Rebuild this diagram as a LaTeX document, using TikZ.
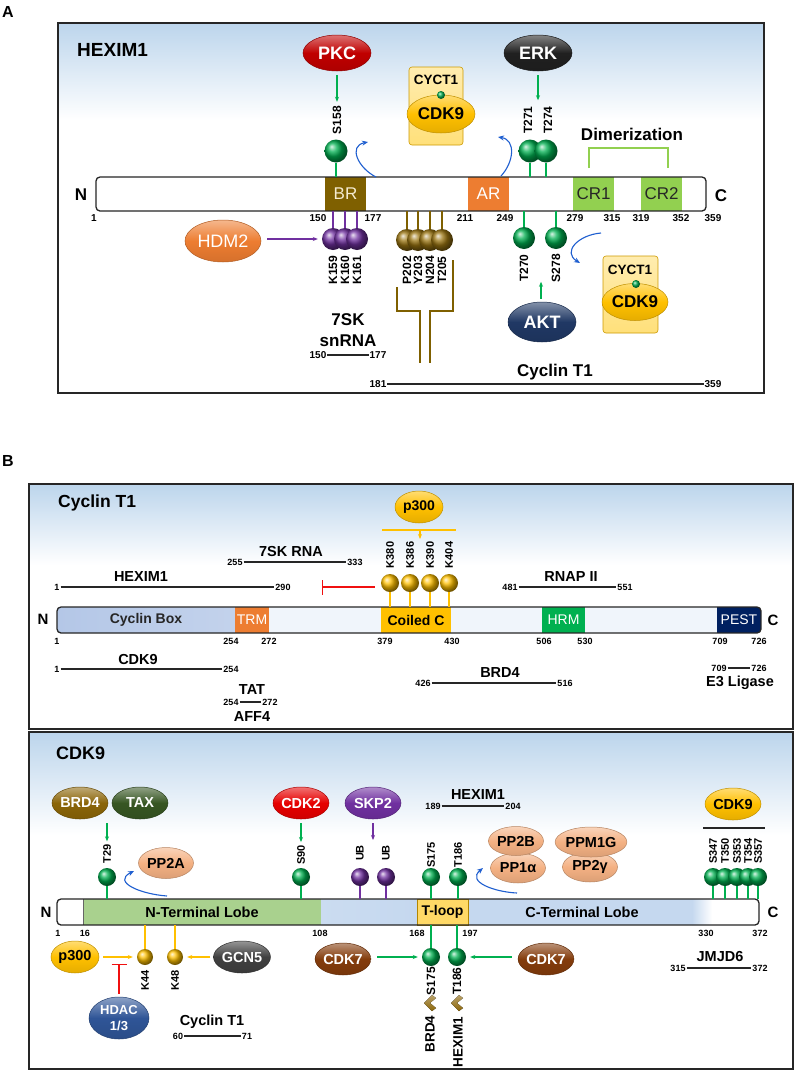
\documentclass[tikz,border=0pt]{standalone}
\usepackage{fontspec}
\setmainfont{Liberation Sans}
\usetikzlibrary{shapes.geometric,arrows.meta,calc}
\newcommand\myfs[1]{\fontsize{#1}{#1}\selectfont}
\definecolor{bgblue}{HTML}{BCD5EC}
\definecolor{lgreen}{HTML}{00B050}
\definecolor{pkcred}{HTML}{C00000}
\definecolor{erkblk}{HTML}{202020}
\definecolor{hdmor}{HTML}{ED7D31}
\definecolor{aktnavy}{HTML}{203864}
\definecolor{purp}{HTML}{7030A0}
\definecolor{brbrown}{HTML}{7F6000}
\definecolor{brball}{HTML}{9A7410}
\definecolor{gold}{HTML}{FFC000}
\definecolor{cplxy}{HTML}{FFE07A}
\definecolor{crgreen}{HTML}{92D050}
\definecolor{salmon}{HTML}{F4B183}
\definecolor{cdktwo}{HTML}{E60000}
\definecolor{taxg}{HTML}{375623}
\definecolor{brdol}{HTML}{8B6508}
\definecolor{gcn}{HTML}{404040}
\definecolor{cdkseven}{HTML}{843C0C}
\definecolor{hdacb}{HTML}{2F5597}
\definecolor{tloop}{HTML}{FFD966}
\definecolor{nlobe}{HTML}{A9D18E}
\definecolor{clobe}{HTML}{C5D8EF}
\definecolor{cbox}{HTML}{B4C7E7}
\definecolor{hrm}{HTML}{00B050}
\definecolor{pest}{HTML}{002060}
\definecolor{barbg}{HTML}{F0F5FB}
\definecolor{bluearr}{HTML}{1F5FD0}
\definecolor{cream}{HTML}{F5EBD0}
\definecolor{redinh}{HTML}{F01010}
\tikzset{
 panel/.style={line width=1.4pt, draw=black!85},
 kin/.style={ellipse, inner sep=0pt, draw=#1!75!black, line width=0.5pt, top color=#1!55!white, bottom color=#1!90!black, middle color=#1, text=white, font=\bfseries\myfs{15}},
 dom/.style={rectangle, inner sep=0pt, minimum height=34pt, font=\myfs{17}},
 num/.style={inner sep=0.5pt, font=\bfseries\myfs{10}},
 snum/.style={inner sep=1pt, font=\bfseries\myfs{9}},
 rlab/.style={rotate=90, inner sep=0pt, font=\bfseries\myfs{12}},
 txt/.style={inner sep=0pt, font=\bfseries\myfs{15}},
 lol/.style={circle, inner sep=0pt, minimum size=#1},
 gstem/.style={draw=lgreen, line width=1.2pt},
 garrow/.style={draw=lgreen, line width=1.2pt, -{Stealth[length=5pt,width=4pt]}},
 parrow/.style={draw=purp, line width=1.2pt, -{Stealth[length=5pt,width=4pt]}},
 oarrow/.style={draw=gold, line width=1.2pt, -{Stealth[length=5pt,width=4pt]}},
 barline/.style={line width=1.3pt, draw=black!85},
 bline/.style={line width=1.3pt, draw=black!85},
 barr/.style={draw=bluearr, line width=1.1pt, -{Stealth[length=6pt,width=5pt]}},
 inh/.style={draw=redinh, line width=1.2pt, -{Bar[width=15pt]}},
 cplx/.style={rectangle, rounded corners=3pt, draw=gold!80!black, line width=0.6pt, top color=cplxy!60!white, bottom color=cplxy, inner sep=0pt},
}
\begin{document}
\begin{tikzpicture}[x=1pt,y=-1pt]
\useasboundingbox (0,0) rectangle (798,1074);
\fill[white] (0,0) rectangle (798,1074);
%%%%%%%%%%%%%%%% PANEL A
\node[txt, font=\bfseries\myfs{16}] (labA) at (8,12) {A};
\fill[white] (58,23) rectangle (764,393);
\shade[top color=bgblue, bottom color=white] (58,23) rectangle (764,120);
\draw[panel] (58,23) rectangle (764,393);
\node[txt, font=\bfseries\myfs{19}, anchor=west] (titA) at (77,50) {HEXIM1};
% bar
\fill[white, rounded corners=4pt] (96,177) rectangle (706,211);
\node[dom, fill=brbrown, minimum width=41pt, text=cream] (BR) at (345.5,194) {BR};
\node[dom, fill=hdmor, minimum width=41pt, text=white] (AR) at (488.5,194) {AR};
\node[dom, fill=crgreen, minimum width=41pt, text=black!85] (CR1) at (593.5,194) {CR1};
\node[dom, fill=crgreen, minimum width=41pt, text=black!85] (CR2) at (661.5,194) {CR2};
\draw[barline, rounded corners=4pt] (96,177) rectangle (706,211);
\node[txt, font=\bfseries\myfs{17}] (NA) at (81,195) {N};
\node[txt, font=\bfseries\myfs{17}] (CA) at (721,196) {C};
\foreach \x/\t in {94/1,318/150,373/177,465/211,505/249,575/279,612/315,641/319,681/352,713/359}
  \node[num] (nA\t) at (\x,218) {\t};
% PKC
\node[kin=pkcred, minimum width=68pt, minimum height=36pt, font=\bfseries\myfs{18}] (PKC) at (337,53) {PKC};
\node[rlab] (lS158) at (337,120) {S158};
\draw[garrow] ([yshift=-4pt]PKC.south) -- ([yshift=4pt]lS158.east);
\node[lol=23pt, ball color=lgreen] (pS158) at (336,151) {};
\draw[gstem] (pS158) -- (336,177);
\draw[barr] (376,177) .. controls (358,168) and (348,146) .. (368,142);
% complex 1
\node[cplx, minimum width=54pt, minimum height=78pt] (cx1) at (436,106) {};
\node[txt, font=\bfseries\myfs{13.5}] (cy1) at (436,80) {CYCT1};
\node[kin=gold, text=black, minimum width=68pt, minimum height=38pt, font=\bfseries\myfs{17}] (cdk1) at (441,114) {CDK9};
\node[lol=8pt, ball color=lgreen] (dot1) at (441,95) {};
\draw[barr] (501,176) .. controls (514,162) and (516,140) .. (498,137);
% ERK
\node[kin=erkblk, minimum width=68pt, minimum height=36pt, font=\bfseries\myfs{18}] (ERK) at (538,53) {ERK};
\node[rlab] (lT271) at (528,120) {T271};
\node[rlab] (lT274) at (548,120) {T274};
\draw[garrow] ([yshift=-4pt]ERK.south) -- ([yshift=-29pt]ERK.south);
\node[lol=23pt, ball color=lgreen] (pT271) at (530,151) {};
\node[lol=23pt, ball color=lgreen] (pT274) at (546,151) {};
\draw[gstem] (pT271.south) -- (530,177);
\draw[gstem] (pT274.south) -- (546,177);
% dimerization
\node[txt, font=\bfseries\myfs{17}] (dim) at (632,134) {Dimerization};
\draw[draw=crgreen, line width=1.5pt] (589,168) -- (589,148) -- (668,148) -- (668,168);
% HDM2
\node[kin=hdmor, minimum width=76pt, minimum height=42pt, font=\myfs{18}] (HDM2) at (223,241) {HDM2};
\foreach \x/\t in {333/K159,345/K160,357/K161}{
  \draw[draw=purp, line width=1.2pt] (\x,211) -- (\x,239);
}
\foreach \x/\t in {333/K159,345/K160,357/K161}{
  \node[lol=22pt, ball color=purp] (p\t) at (\x,239) {};
  \node[rlab] (l\t) at (\x,270) {\t};
}
\draw[parrow] ([xshift=6pt]pK159.west -| HDM2.east) -- ([xshift=-4pt]pK159.west);
% brown
\foreach \x/\t in {407/P202,418/Y203,430/N204,442/T205}{
  \draw[draw=brbrown, line width=1.2pt] (\x,211) -- (\x,240);
}
\foreach \x/\t in {407/P202,418/Y203,430/N204,442/T205}{
  \node[lol=22pt, ball color=brball] (p\t) at (\x,240) {};
  \node[rlab] (l\t) at (\x,270) {\t};
}
\draw[draw=brbrown, line width=1.3pt] (397,287) -- (397,311) -- (420,311) -- (420,363);
\draw[draw=brbrown, line width=1.3pt] (453,260) -- (453,311) -- (430,311) -- (430,363);
% 7SK
\node[txt, font=\bfseries\myfs{17}] (sk1) at (348,320) {7SK};
\node[txt, font=\bfseries\myfs{17}] (sk2) at (348,341) {snRNA};
\node[num] (sk150) at (318,355) {150};
\node[num] (sk177) at (378,355) {177};
\draw[bline] (sk150) -- (sk177);
\node[txt, font=\bfseries\myfs{17}] (cyA) at (555,372) {Cyclin T1};
\node[num] (cy181) at (378,384) {181};
\node[num] (cy359) at (713,384) {359};
\draw[bline] (cy181) -- (cy359);
% T270 S278
\node[lol=22pt, ball color=lgreen] (pT270) at (524,238) {};
\node[lol=22pt, ball color=lgreen] (pS278) at (556,238) {};
\draw[gstem] (pT270.north) -- (524,211);
\draw[gstem] (pS278.north) -- (556,211);
\node[rlab] (lT270) at (524,268) {T270};
\node[rlab] (lS278) at (556,268) {S278};
\node[kin=aktnavy, minimum width=68pt, minimum height=40pt, font=\bfseries\myfs{18}] (AKT) at (542,322) {AKT};
\draw[garrow] ([xshift=-1pt,yshift=3pt]AKT.north) -- ([xshift=-1pt,yshift=20pt]AKT.north);
\draw[barr] (601,233) .. controls (578,235) and (562,252) .. (580,263);
% complex 2
\node[cplx, minimum width=55pt, minimum height=77pt] (cx2) at (630.5,294.5) {};
\node[txt, font=\bfseries\myfs{13.5}] (cy2) at (630,270) {CYCT1};
\node[kin=gold, text=black, minimum width=66pt, minimum height=37pt, font=\bfseries\myfs{17}] (cdk2c) at (635,302) {CDK9};
\node[lol=8pt, ball color=lgreen] (dot2) at (636,284) {};
%%%%%%%%%%%%%%%% PANEL B - Cyclin T1
\node[txt, font=\bfseries\myfs{16}] (labB) at (8,461) {B};
\fill[white] (29,484) rectangle (793,729);
\shade[top color=bgblue, bottom color=white] (29,484) rectangle (793,565);
\draw[panel] (29,484) rectangle (793,729);
\node[txt, font=\bfseries\myfs{17.5}, anchor=west] (titB) at (58,503) {Cyclin T1};
% bar
\begin{scope}
\clip[rounded corners=4pt] (57,607) rectangle (761,633);
\fill[barbg] (57,607) rectangle (761,633);
\shade[left color=cbox, right color=cbox!80!white] (57,607) rectangle (235,633);
\fill[hdmor] (235,607) rectangle (269,633);
\fill[gold] (381,607) rectangle (451,633);
\fill[hrm] (542,607) rectangle (585,633);
\fill[pest] (717,607) rectangle (761,633);
\end{scope}
\draw[barline, rounded corners=4pt] (57,607) rectangle (761,633);
\node[txt, font=\bfseries\myfs{14}, text=black!85] (cbx) at (146,620) {Cyclin Box};
\node[txt, font=\myfs{14}, text=white] (trm) at (252,620) {TRM};
\node[txt, font=\bfseries\myfs{14}] (coil) at (416,620) {Coiled C};
\node[txt, font=\myfs{14}, text=white] (hrmt) at (563.5,620) {HRM};
\node[txt, font=\myfs{14}, text=white] (pestt) at (739,620) {PEST};
\node[txt, font=\bfseries\myfs{15}] (NB) at (43,619) {N};
\node[txt, font=\bfseries\myfs{15}] (CB) at (773,620) {C};
\foreach \x/\t in {57/1,231/254,269/272,385/379,452/430,544/506,585/530,720/709,759/726}
  \node[snum] (nB\t) at (\x,641) {\t};
% above bar
\node[txt, font=\bfseries\myfs{14.5}] (hexB) at (141,577) {HEXIM1};
\node[snum] (hx1) at (57,587) {1};
\node[snum] (hx2) at (283,587) {290};
\draw[bline] (hx1) -- (hx2);
\node[txt, font=\bfseries\myfs{14.5}] (skB) at (291,552) {7SK RNA};
\node[snum] (sk255) at (235,562) {255};
\node[snum] (sk333) at (355,562) {333};
\draw[bline] (sk255) -- (sk333);
\coordinate (inhE) at (322,587);
\foreach \x/\t in {390/K380,410/K386,430/K390,449/K404}{
  \draw[draw=gold, line width=1.2pt] (\x,607) -- (\x,583);
}
\foreach \x/\t in {390/K380,410/K386,430/K390,449/K404}{
  \node[lol=18pt, ball color=gold] (p\t) at (\x,583) {};
  \node[rlab, font=\bfseries\myfs{11}] (l\t) at (\x,555) {\t};
}
\draw[inh] ([xshift=-6pt]pK380.west |- inhE) -- (inhE);
\node[kin=gold, text=black, minimum width=48pt, minimum height=32pt, font=\bfseries\myfs{14}] (p300a) at (419,507) {p300};
\coordinate (olL) at (382,530);
\coordinate (olR) at (456,530);
\draw[draw=gold, line width=1.2pt] (olL) -- (olR);
\draw[oarrow] (420,530) -- (420,539);
\node[txt, font=\bfseries\myfs{14.5}] (rnap) at (571,577) {RNAP II};
\node[snum] (rn1) at (510,587) {481};
\node[snum] (rn2) at (625,587) {551};
\draw[bline] (rn1) -- (rn2);
% below bar
\node[txt, font=\bfseries\myfs{14.5}] (cdkB) at (138,659) {CDK9};
\node[snum] (cd1) at (57,669) {1};
\node[snum] (cd2) at (231,669) {254};
\draw[bline] (cd1) -- (cd2);
\node[txt, font=\bfseries\myfs{14.5}] (tat) at (252,690) {TAT};
\node[snum] (ta1) at (231,702) {254};
\node[snum] (ta2) at (270,702) {272};
\draw[bline] (ta1) -- (ta2);
\node[txt, font=\bfseries\myfs{14.5}] (aff) at (252,717) {AFF4};
\node[txt, font=\bfseries\myfs{14.5}] (brdB) at (500,673) {BRD4};
\node[snum] (br1) at (423,683) {426};
\node[snum] (br2) at (565,683) {516};
\draw[bline] (br1) -- (br2);
\node[txt, font=\bfseries\myfs{14.5}] (e3) at (740,683) {E3 Ligase};
\node[snum] (e31) at (719,668) {709};
\node[snum] (e32) at (759,668) {726};
\draw[bline] (e31) -- (e32);
%%%%%%%%%%%%%%%% PANEL B - CDK9
\fill[white] (29,732) rectangle (793,1069);
\shade[top color=bgblue, bottom color=white] (29,732) rectangle (793,835);
\draw[panel] (29,732) rectangle (793,1069);
\node[txt, font=\bfseries\myfs{18}, anchor=west] (titC) at (56,753) {CDK9};
% bar
\begin{scope}
\clip[rounded corners=4pt] (57,899) rectangle (759,925);
\fill[white] (57,899) rectangle (759,925);
\fill[nlobe] (83,899) rectangle (321,925);
\shade[left color=clobe!90!white, right color=clobe] (321,899) rectangle (417,925);
\fill[clobe] (468,899) rectangle (692,925);
\shade[left color=clobe, right color=white] (692,899) rectangle (712,925);
\end{scope}
\node[rectangle, draw=gold!70!black, line width=0.6pt, fill=tloop, minimum width=51pt, minimum height=26pt, inner sep=0pt, font=\bfseries\myfs{14}] (tl) at (442.5,912) {T-loop};
\draw[black!60, line width=0.6pt] (83,899) -- (83,925);
\draw[barline, rounded corners=4pt] (57,899) rectangle (759,925);
\node[txt, font=\bfseries\myfs{14.5}] (ntl) at (202,912) {N-Terminal Lobe};
\node[txt, font=\bfseries\myfs{14.5}] (ctl) at (582,912) {C-Terminal Lobe};
\node[txt, font=\bfseries\myfs{15}] (NC) at (46,912) {N};
\node[txt, font=\bfseries\myfs{15}] (CC) at (773,912) {C};
\foreach \x/\t in {58/1,85/16,320/108,417/168,470/197,706/330,760/372}
  \node[snum] (nC\t) at (\x,933) {\t};
% above
\node[kin=brdol, minimum width=56pt, minimum height=32pt, font=\bfseries\myfs{14.5}] (BRD4k) at (80,803) {BRD4};
\node[kin=taxg, minimum width=56pt, minimum height=32pt, font=\bfseries\myfs{14.5}] (TAX) at (140,803) {TAX};
\node[rlab, font=\bfseries\myfs{11}] (lT29) at (107,854) {T29};
\draw[garrow] (107,823) -- ([yshift=3pt]lT29.east);
\node[lol=18pt, ball color=lgreen] (pT29) at (107,877) {};
\draw[gstem] (pT29.south) -- (107,899);
\draw[barr] (167,896) .. controls (140,894) and (112,882) .. (134,871);
\node[kin=salmon, text=black, minimum width=55pt, minimum height=31pt, font=\bfseries\myfs{14.5}] (PP2A) at (166,863) {PP2A};
\node[kin=cdktwo, minimum width=56pt, minimum height=32pt, font=\bfseries\myfs{14.5}] (CDK2) at (301,803) {CDK2};
\node[rlab, font=\bfseries\myfs{11}] (lS90) at (301,855) {S90};
\draw[garrow] (301,823) -- ([yshift=3pt]lS90.east);
\node[lol=18pt, ball color=lgreen] (pS90) at (301,877) {};
\draw[gstem] (pS90.south) -- (301,899);
\node[kin=purp, minimum width=56pt, minimum height=32pt, font=\bfseries\myfs{14.5}] (SKP2) at (373,803) {SKP2};
\draw[parrow] (373,823) -- (373,840);
\foreach \x/\n in {360/a,386/b}{
  \node[lol=18pt, ball color=purp] (pUB\n) at (\x,877) {};
  \draw[draw=purp, line width=1.2pt] (pUB\n.south) -- (\x,899);
  \node[rlab, font=\bfseries\myfs{11}] (lUB\n) at (\x,853) {UB};
}
\node[txt, font=\bfseries\myfs{14.5}] (hexC) at (478,795) {HEXIM1};
\node[snum] (hc1) at (433,806) {189};
\node[snum] (hc2) at (513,806) {204};
\draw[bline] (hc1) -- (hc2);
\foreach \x/\t in {431/S175,458/T186}{
  \node[lol=18pt, ball color=lgreen] (pu\t) at (\x,877) {};
  \draw[gstem] (pu\t.south) -- (\x,899);
  \node[rlab, font=\bfseries\myfs{11}] (lu\t) at (\x,855) {\t};
}
\draw[barr] (517,893) .. controls (495,892) and (466,882) .. (483,868);
\node[kin=salmon, text=black, minimum width=55pt, minimum height=30pt, font=\bfseries\myfs{14.5}] (PP1a) at (518,868) {PP1α};
\node[kin=salmon, text=black, minimum width=55pt, minimum height=29pt, font=\bfseries\myfs{14.5}] (PP2B) at (516,841) {PP2B};
\node[kin=salmon, text=black, minimum width=55pt, minimum height=30pt, font=\bfseries\myfs{14.5}] (PP2g) at (590,867) {PP2γ};
\node[kin=salmon, text=black, minimum width=68pt, minimum height=30pt, font=\bfseries\myfs{14.5}] (PPM1G) at (591,842) {PPM1G};
\node[kin=gold, text=black, minimum width=56pt, minimum height=32pt, font=\bfseries\myfs{14.5}] (CDK9r) at (733,804) {CDK9};
\coordinate (blL) at (703,828);
\coordinate (blR) at (765,828);
\draw[bline] (blL) -- (blR);
\foreach \x/\t in {713/S347,725/T350,737/S353,748/T354,758/S357}{
  \draw[gstem] (\x,899) -- (\x,877);
}
\foreach \x/\t in {713/S347,725/T350,737/S353,748/T354,758/S357}{
  \node[lol=18pt, ball color=lgreen] (p\t) at (\x,877) {};
  \node[rlab, font=\bfseries\myfs{11}] (l\t) at (\x,851) {\t};
}
% below
\node[kin=gold, text=black, minimum width=48pt, minimum height=32pt, font=\bfseries\myfs{14.5}] (p300b) at (75,957) {p300};
\foreach \x/\t in {145/K44,175/K48}{
  \node[lol=16pt, ball color=gold] (p\t) at (\x,957) {};
  \draw[draw=gold, line width=1.2pt] (p\t.north) -- (\x,925);
  \node[rlab, font=\bfseries\myfs{11}] (l\t) at (\x,980) {\t};
}
\draw[oarrow] ([xshift=4pt]p300b.east) -- ([xshift=-4pt]pK44.west);
\node[kin=gcn, minimum width=55pt, minimum height=32pt, font=\bfseries\myfs{14.5}] (GCN5) at (242,957) {GCN5};
\draw[oarrow] ([xshift=-3pt]GCN5.west) -- ([xshift=4pt]pK48.east);
\node[kin=hdacb, minimum width=60pt, minimum height=42pt, align=center, font=\bfseries\fontsize{13}{16}\selectfont] (HDAC) at (119,1018) {HDAC\\1/3};
\draw[inh] ([yshift=3pt]HDAC.north) -- ([yshift=33pt]HDAC.north);
\node[txt, font=\bfseries\myfs{14.5}] (cyC) at (212,1022) {Cyclin T1};
\node[snum] (cc1) at (178,1036) {60};
\node[snum] (cc2) at (247,1036) {71};
\draw[bline] (cc1) -- (cc2);
\node[kin=cdkseven, minimum width=55pt, minimum height=32pt, font=\bfseries\myfs{14.5}] (CDK7a) at (343,959) {CDK7};
\node[kin=cdkseven, minimum width=55pt, minimum height=32pt, font=\bfseries\myfs{14.5}] (CDK7b) at (546,959) {CDK7};
\foreach \x/\t in {431/S175,457/T186}{
  \node[lol=18pt, ball color=lgreen] (pd\t) at (\x,957) {};
  \draw[gstem] (pd\t.north) -- (\x,925);
  \node[rlab, font=\bfseries\myfs{12}] (ld\t) at (\x,981) {\t};
}
\draw[garrow] ([xshift=6pt]pdS175.west -| CDK7a.east) -- ([xshift=-4pt]pdS175.west);
\draw[garrow] ([xshift=-6pt]pdT186.east -| CDK7b.west) -- ([xshift=4pt]pdT186.east);
\foreach \x/\n in {429/a,456/b}{
  \fill[top color=brdol!60!white, bottom color=brdol] (\x-5,1003) -- (\x+3,995) -- (\x+7,998) -- (\x+1,1003) -- (\x+7,1008) -- (\x+3,1011) -- cycle;
}
\node[rlab, font=\bfseries\myfs{13.5}] (lBRD4d) at (430,1034) {BRD4};
\node[rlab, font=\bfseries\myfs{13.5}] (lHEXd) at (458,1042) {HEXIM1};
\node[txt, font=\bfseries\myfs{14.5}] (jm) at (720,956) {JMJD6};
\node[snum] (jm1) at (678,968) {315};
\node[snum] (jm2) at (760,968) {372};
\draw[bline] (jm1) -- (jm2);
\end{tikzpicture}
\end{document}
